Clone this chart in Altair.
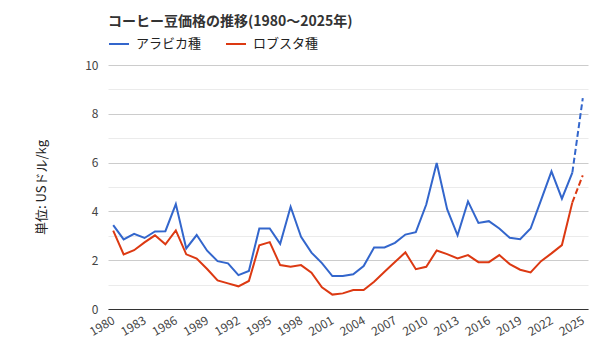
import altair as alt
import pandas as pd

years = list(range(1980, 2026))
arabica = [3.44, 2.85, 3.08, 2.91, 3.18, 3.19, 4.30, 2.48, 3.03, 2.39,
           1.96, 1.87, 1.39, 1.56, 3.30, 3.30, 2.67, 4.19, 2.96, 2.31,
           1.88, 1.35, 1.35, 1.42, 1.76, 2.52, 2.52, 2.71, 3.05, 3.15,
           4.28, 5.98, 4.09, 3.02, 4.41, 3.53, 3.60, 3.30, 2.92, 2.86,
           3.30, 4.46, 5.64, 4.52, 5.59, 8.64]
robusta = [3.21, 2.24, 2.41, 2.73, 3.02, 2.65, 3.22, 2.24, 2.07, 1.64,
           1.17, 1.05, 0.93, 1.15, 2.61, 2.74, 1.80, 1.73, 1.80, 1.49,
           0.89, 0.59, 0.64, 0.78, 0.78, 1.12, 1.53, 1.93, 2.32, 1.63,
           1.73, 2.40, 2.25, 2.07, 2.21, 1.92, 1.92, 2.21, 1.84, 1.61,
           1.50, 1.96, 2.28, 2.62, 4.37, 5.48]
series_names = ["アラビカ種", "ロブスタ種"]
colors = ["#3366cc", "#dc3912"]
x_ticks = list(range(1980, 2026, 3))
y_ticks = list(range(0, 11))

rows = []
for name, vals in zip(series_names, [arabica, robusta]):
    for y, v in zip(years, vals):
        rows.append({"year": y, "value": v, "series": name})
df = pd.DataFrame(rows)
solid = df[df.year <= 2024]
dashed = df[df.year >= 2024]

FONT = "Noto Sans CJK JP"

x = alt.X("year:Q",
          scale=alt.Scale(domain=[1979.5, 2025.5], nice=False, zero=False),
          axis=alt.Axis(values=x_ticks, format="d", title=None, grid=False,
                        ticks=False, domain=True, domainColor="#333333",
                        labelAngle=-30, labelAlign="right", labelBaseline="middle",
                        labelPadding=10, labelColor="#444444", labelFontSize=12,
                        labelFont=FONT, labelOverlap=False))
y = alt.Y("value:Q",
          scale=alt.Scale(domain=[0, 10], nice=False),
          axis=alt.Axis(values=y_ticks, title="単位: USドル/kg", domain=False,
                        ticks=False, labelExpr="datum.value % 2 == 0 ? datum.label : ''",
                        gridColor={"condition": {"test": "datum.value % 2 == 1", "value": "#ebebeb"},
                                   "value": "#cccccc"},
                        labelColor="#444444", labelFontSize=12, labelFont=FONT,
                        labelPadding=10, titleFont=FONT, titleFontSize=13,
                        titleFontWeight="normal", titleColor="#222222", titlePadding=36))
color = alt.Color("series:N",
                  scale=alt.Scale(domain=series_names, range=colors),
                  legend=alt.Legend(title=None, orient="none", legendX=0, legendY=-32,
                                    direction="horizontal", symbolType="stroke",
                                    symbolSize=400, symbolStrokeWidth=2,
                                    labelFont=FONT, labelFontSize=13, labelColor="#222222",
                                    columnPadding=20, labelOffset=6))

line_solid = alt.Chart(solid).mark_line(strokeWidth=2).encode(x=x, y=y, color=color)
line_dash = alt.Chart(dashed).mark_line(strokeWidth=2, strokeDash=[6, 3]).encode(
    x=x, y=y, color=alt.Color("series:N", scale=alt.Scale(domain=series_names, range=colors), legend=None))

chart = alt.layer(line_solid, line_dash).properties(
    width=480, height=244,
    title=alt.TitleParams("コーヒー豆価格の推移(1980〜2025年)", anchor="start", frame="group",
                          font=FONT, fontSize=14, fontWeight="bold", color="#333333", offset=4),
    autosize=alt.AutoSizeParams(type="none"),
    padding={"left": 100, "top": 57, "right": 4, "bottom": 40},
).configure_view(stroke=None)

chart.save("out.html", embed_options={"renderer": "svg", "actions": False})
